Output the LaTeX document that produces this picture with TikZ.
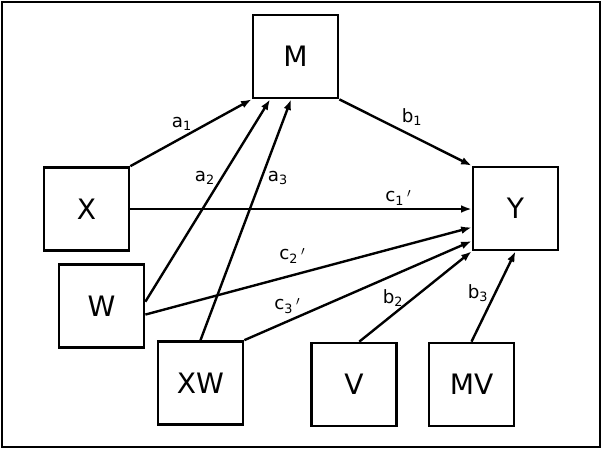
\documentclass[tikz,border=0pt]{standalone}
\usepackage{fontspec}
\setmainfont{DejaVu Sans}
\usetikzlibrary{calc}
\usetikzlibrary{arrows.meta}

\newcommand\prm{\kern2pt\raisebox{3pt}{\fontsize{9.5}{9.5}\selectfont$\prime$}}

\begin{document}
\begin{tikzpicture}[x=0.025cm, y=-0.025cm,
  box/.style={draw, line width=1.9pt, minimum width=2.125cm, minimum height=2.075cm, inner sep=0pt, font=\fontsize{20}{24}\selectfont},
  lab/.style={inner sep=0pt, font=\fontsize{13}{16}\selectfont},
  arr/.style={line width=1.7pt, ->, >={Latex[length=7.5pt,width=5.5pt]}}]
\useasboundingbox (0,0) rectangle (604,450);
\draw[line width=1.9pt] (2,2) rectangle (600,447);

% variables
\node[box] (M)  at (295.5,56.5)  {M};
\node[box] (X)  at (86.5,209)    {X};
\node[box] (Y)  at (515.5,208.5) {Y};
\node[box] (W)  at (101.5,306)   {W};
\node[box] (XW) at (200.5,383)   {XW};
\node[box] (V)  at (354,384.5)   {V};
\node[box] (MV) at (471.5,384.5) {MV};

% paths to M
\draw[arr] (X.north east) -- (M.south west);
\draw[arr] ($(W.north east)!.45!(W.south east)$) -- ($(M.south west)!.21!(M.south east)$);
\draw[arr] (XW.north) -- ($(M.south west)!.45!(M.south east)$);
% paths to Y
\draw[arr] (M.south east) -- (Y.north west);
\draw[arr] (X.east) -- (X.east -| Y.west);
\draw[arr] ($(W.north east)!.6!(W.south east)$) -- ($(Y.north west)!.72!(Y.south west)$);
\draw[arr] (XW.north east) -- ($(Y.north west)!.88!(Y.south west)$);
\draw[arr] ($(V.north west)!.56!(V.north east)$) -- (Y.south west);
\draw[arr] (MV.north) -- (Y.south);

% coefficients
\node[lab] (la1) at (182,124) {a\textsubscript{1}};
\node[lab] (la2) at (205,178) {a\textsubscript{2}};
\node[lab] (la3) at (278,178) {a\textsubscript{3}};
\node[lab] (lb1) at (412,117) {b\textsubscript{1}};
\node[lab] (lc1) at (398,198) {c\textsubscript{1}\prm};
\node[lab] (lc2) at (292,256) {c\textsubscript{2}\prm};
\node[lab] (lc3) at (287,306) {c\textsubscript{3}\prm};
\node[lab] (lb2) at (393,298) {b\textsubscript{2}};
\node[lab] (lb3) at (478,293) {b\textsubscript{3}};
\end{tikzpicture}
\end{document}
